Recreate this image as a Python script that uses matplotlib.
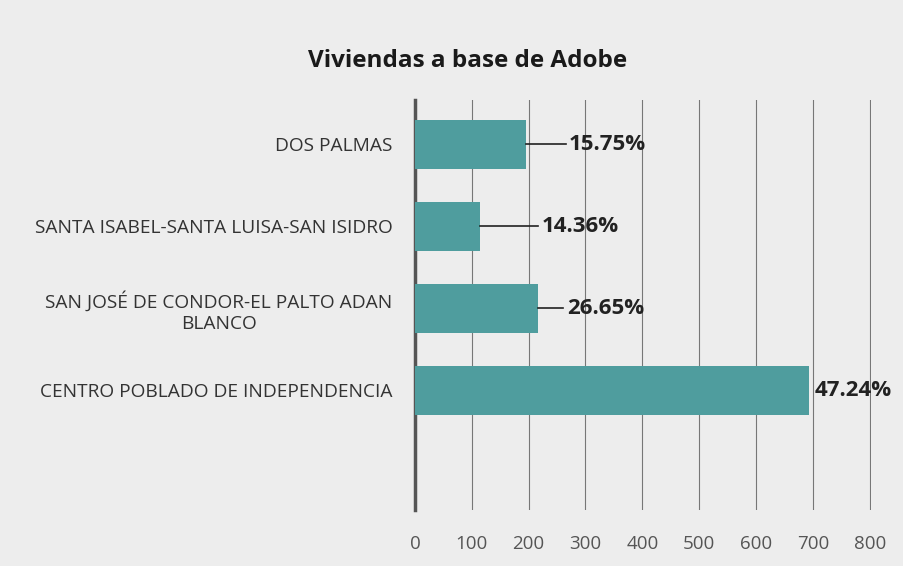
import matplotlib.pyplot as plt

# Data (bottom to top)
categories = ["CENTRO POBLADO DE INDEPENDENCIA",
              "SAN JOSÉ DE CONDOR-EL PALTO ADAN\nBLANCO",
              "SANTA ISABEL-SANTA LUISA-SAN ISIDRO",
              "DOS PALMAS"]
values = [694, 216, 115, 195]
pct_labels = ["47.24%", "26.65%", "14.36%", "15.75%"]
label_x = [703, 267, 223, 271]
ticks = [0, 100, 200, 300, 400, 500, 600, 700, 800]

plt.rcParams['font.family'] = ['Open Sans', 'DejaVu Sans']

fig = plt.figure(figsize=(9.04, 5.66), dpi=100, facecolor='#ededed')
ax = fig.add_axes([0.459, 0.099, 0.505, 0.724])
ax.set_facecolor('none')

y = range(len(categories))
ax.barh(y, values, height=0.6, color='#4f9d9e', zorder=3)

for yi, v, lx, txt in zip(y, values, label_x, pct_labels):
    if lx - v > 20:
        ax.plot([v, lx - 6], [yi, yi], color='#222222', lw=1.2, zorder=3)
    ax.text(lx, yi, txt, va='center', ha='left', fontsize=16,
            fontweight='bold', color='#222222')

ax.set_xlim(0, 803)
ax.set_ylim(-1.46, 3.54)
ax.set_xticks(ticks)
ax.set_xticklabels([str(t) for t in ticks], fontsize=13.5, color='#555555')
ax.tick_params(axis='x', length=0, pad=18)
ax.set_yticks(list(y))
ax.set_yticklabels(categories, fontsize=13.8, color='#333333')
ax.tick_params(axis='y', length=0, pad=16)
for lab in ax.get_yticklabels():
    lab.set_horizontalalignment('right')
    lab.set_multialignment('center')

ax.grid(axis='x', color='#777777', lw=0.8, zorder=0)
for s in ['top', 'right', 'bottom']:
    ax.spines[s].set_visible(False)
ax.spines['left'].set_color('#555555')
ax.spines['left'].set_linewidth(2.5)

fig.text(0.517, 0.892, "Viviendas a base de Adobe", ha='center', va='center',
         fontsize=17.5, fontweight='bold', color='#1a1a1a')

fig.savefig('out.png', dpi=100, facecolor=fig.get_facecolor())
